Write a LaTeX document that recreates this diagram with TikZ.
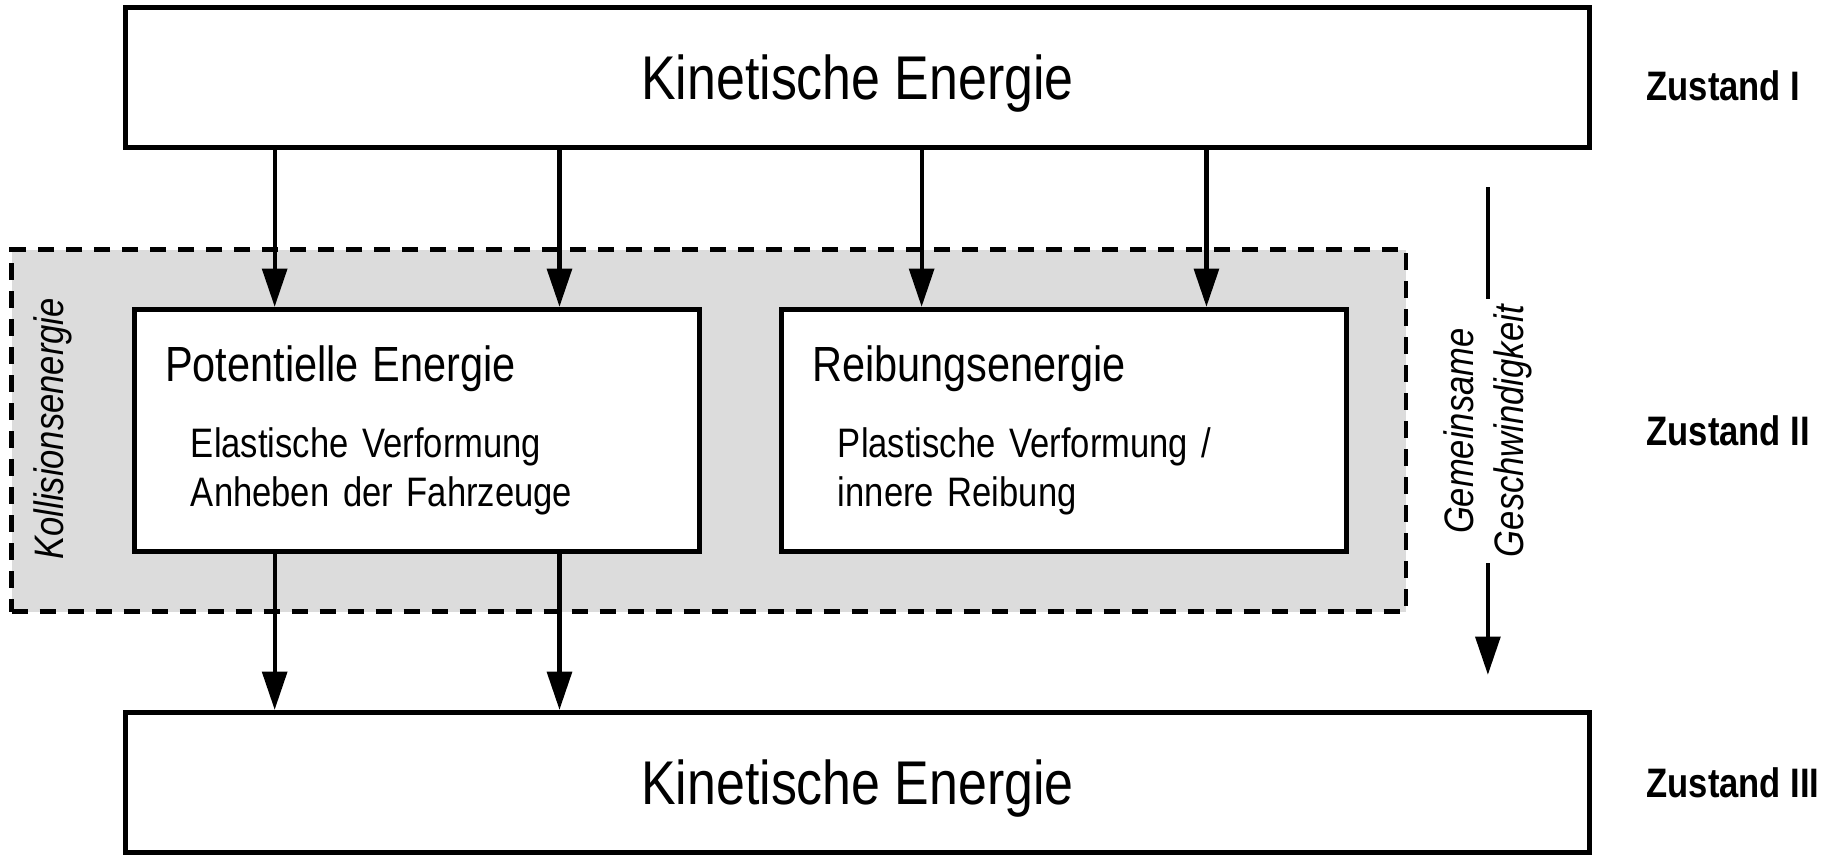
\documentclass[tikz,border=0pt]{standalone}
\usepackage{fontspec}
\setmainfont{Liberation Sans}[FakeStretch=0.84]
\usetikzlibrary{arrows.meta,positioning,calc}
\definecolor{collgray}{RGB}{220,220,220}

\begin{document}
\begin{tikzpicture}[
    >={Triangle[length=9.3pt,width=6pt]},
    flow/.style={->,line width=1pt},
    kinbox/.style={draw,line width=1.2pt,fill=white,minimum width=12.5cm,minimum height=1.2cm,
        text depth=0pt,font=\fontsize{15}{18}\selectfont},
    ebox/.style={draw,line width=1.2pt,fill=white,minimum width=4.82cm,minimum height=2.07cm,
        text width=4.30cm,inner xsep=0.26cm,align=left,font=\fontsize{10}{12}\selectfont},
    collbox/.style={draw,dash pattern=on 4pt off 2.8pt,line width=1.1pt,fill=collgray,minimum width=11.9cm,minimum height=3.09cm},
    zlabel/.style={anchor=west,font=\fontsize{10}{12}\selectfont\bfseries},
    ]
    \useasboundingbox (0,0) rectangle (15.68,7.29);
    % Kollisionsbereich
    \node[collbox] (coll) at (6.05,3.615) {};
    \node[rotate=90,font=\fontsize{10}{12}\selectfont\itshape] (kolllab) at (0.45,3.63) {Kollisionsenergie};
    % Energien
    \node[kinbox] (kinI) at (7.32,6.63) {Kinetische Energie};
    \node[kinbox] (kinIII) at (7.32,0.61) {Kinetische Energie};
    \node[ebox] (potE) at (3.56,3.615) {{\fontsize{12}{14}\selectfont Potentielle Energie}\\[6.5pt]
        \hspace*{0.22cm}Elastische Verformung\\
        \hspace*{0.22cm}Anheben der Fahrzeuge};
    \node[ebox,right=0.66cm of potE] (reibE) {{\fontsize{12}{14}\selectfont Reibungsenergie}\\[6.5pt]
        \hspace*{0.22cm}Plastische Verformung /\\
        \hspace*{0.22cm}innere Reibung};
    % Zustaende
    \node[zlabel] (zI) at (13.93,6.56) {Zustand I};
    \node[zlabel] (zII) at (zI.west |- coll.center) {Zustand II};
    \node[zlabel] (zIII) at (zI.west |- kinIII.center) {Zustand III};
    % Pfeile
    \foreach \b in {potE,reibE}
        \foreach \f/\i in {0.25/1,0.75/2}{
            \coordinate (\b\i) at ($(\b.north west)!\f!(\b.north east)$);
            \draw[flow] (\b\i |- kinI.south) -- (\b\i);
        }
    \foreach \i in {1,2}
        \draw[flow] (potE\i |- potE.south) -- (potE\i |- kinIII.north);
    \coordinate (gtop) at (12.70,5.69);
    \coordinate (gbot) at (12.70,1.53);
    \draw[flow] (gtop) -- node[rotate=90,fill=white,inner sep=1.5pt,align=center,
        font=\fontsize{10}{12}\selectfont\itshape] (gv) {Gemeinsame\\Geschwindigkeit} (gbot);
\end{tikzpicture}
\end{document}
